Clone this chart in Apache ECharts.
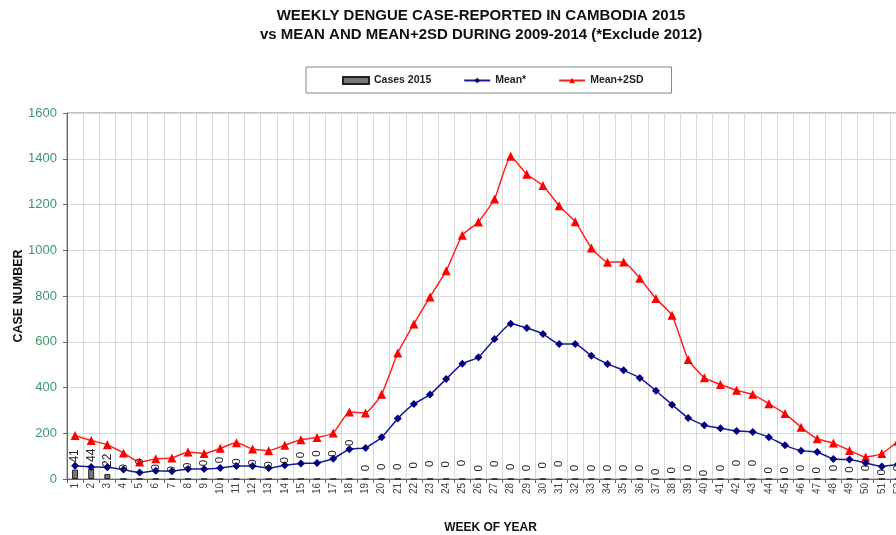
<!DOCTYPE html>
<html><head><meta charset="utf-8">
<script src="https://cdn.jsdelivr.net/npm/echarts@6/dist/echarts.min.js"></script>
<style>html,body{margin:0;padding:0;background:#fff;overflow:hidden;width:896px;height:535px}#c{width:906px;height:535px}</style>
</head><body><div id="c"></div>
<script>
var weeks = [];
for (var i = 1; i <= 52; i++) weeks.push(String(i));
var cases2015 = [41,44,22,0,0,0,0,0,0,0,0,0,0,0,0,0,0,0,0,0,0,0,0,0,0,0,0,0,0,0,0,0,0,0,0,0,0,0,0,0,0,0,0,0,0,0,0,0,0,0,0,0];
var mean = [58,53,51,41,28,36,34,44,44,48,57,57,48,60,68,70,89,130,136,182,264,328,369,437,504,532,612,679,660,634,590,590,539,503,475,442,386,325,267,235,222,210,206,182,147,124,118,87,85,70,55,64];
var mean2sd = [190,168,150,114,74,88,92,118,111,134,158,131,124,148,172,181,201,293,289,370,551,678,796,910,1066,1124,1224,1411,1332,1283,1195,1125,1010,948,949,878,789,716,522,443,413,388,370,329,286,226,176,157,125,96,111,165];
// heights at which Excel placed the "0" data labels of the zero-valued weeks
var zeroLabelAt = [null,null,null,51,76,51,42,58,70,83,76,72,63,82,105,111,111,158,48,53,53,60,66,64,70,47,66,53,48,60,66,48,48,48,48,48,32,38,48,26,48,70,70,38,38,48,38,48,41,48,29,48];
var yTicks = [0,200,400,600,800,1000,1200,1400,1600];

var zeroData = [];
zeroLabelAt.forEach(function(v, i){ if (v !== null && cases2015[i] === 0) zeroData.push([i, v, cases2015[i]]); });
var FONT = 'Liberation Sans, Arial';

var chart = echarts.init(document.getElementById('c'));
chart.setOption({
  animation: false,
  backgroundColor: '#fff',
  title: {
    text: 'WEEKLY DENGUE CASE-REPORTED IN CAMBODIA 2015\nvs MEAN AND MEAN+2SD DURING 2009-2014 (*Exclude 2012)',
    left: 481, top: 7, textAlign: 'center', padding: 0,
    textStyle: {fontFamily: FONT, fontWeight: 'bold', fontSize: 15, color: '#111', lineHeight: 18.5}
  },
  legend: {
    left: 306, top: 67,
    padding: [8, 28, 7, 36],
    itemGap: 32,
    borderColor: '#888', borderWidth: 1,
    itemWidth: 26, itemHeight: 7,
    textStyle: {fontFamily: FONT, fontWeight: 'bold', fontSize: 10.5, color: '#222'},
    data: [
      {name: 'Cases 2015', icon: 'rect'},
      {name: 'Mean*'},
      {name: 'Mean+2SD'}
    ]
  },
  grid: {left: 67, right: 0, top: 113, bottom: 56, containLabel: false, outerBoundsMode: 'none',
    show: true, borderColor: '#888', borderWidth: 1},
  xAxis: {
    type: 'category', data: weeks,
    name: 'WEEK OF YEAR', nameLocation: 'middle', nameGap: 43,
    nameTextStyle: {fontFamily: FONT, fontWeight: 'bold', fontSize: 12, color: '#111', padding: [0, 0, 0, 8]},
    axisLine: {lineStyle: {color: '#666'}},
    axisTick: {show: true, length: 4, lineStyle: {color: '#666'}},
    axisLabel: {rotate: 90, fontSize: 10, color: '#444', fontFamily: FONT, margin: 4, interval: 0},
    splitLine: {show: true, interval: 0, lineStyle: {color: '#d8d8d8'}}
  },
  yAxis: {
    type: 'value', min: 0, max: 1600, interval: 200,
    name: 'CASE NUMBER', nameLocation: 'middle', nameGap: 42, nameMoveOverlap: false,
    nameTextStyle: {fontFamily: FONT, fontWeight: 'bold', fontSize: 12.5, color: '#111'},
    axisLine: {show: true, lineStyle: {color: '#666'}},
    axisTick: {show: true, length: 4, lineStyle: {color: '#666'}},
    axisLabel: {fontSize: 13, color: '#3c9a6a', fontFamily: FONT, margin: 10,
      formatter: function(v){ return yTicks.indexOf(v) >= 0 ? String(v) : ''; }},
    splitLine: {show: true, lineStyle: {color: '#d8d8d8'}}
  },
  series: [
    {
      name: 'Cases 2015', type: 'bar', data: cases2015, barWidth: 6,
      itemStyle: {color: '#777', borderColor: '#222', borderWidth: 1},
      label: {show: true, position: 'top', rotate: 90, align: 'left', verticalAlign: 'middle', distance: 7,
        fontSize: 12, color: '#222', fontFamily: FONT,
        formatter: function(p){ return p.value > 0 ? String(p.value) : ''; }},
      z: 2
    },
    {
      name: 'Mean*', type: 'line', data: mean, smooth: 0.15,
      symbol: 'diamond', symbolSize: 8,
      lineStyle: {color: '#1a1a99', width: 1.5},
      itemStyle: {color: '#000080'},
      z: 4
    },
    {
      name: 'Mean+2SD', type: 'line', data: mean2sd, smooth: 0.15,
      symbol: 'triangle', symbolSize: 9,
      lineStyle: {color: '#ff2020', width: 1.5},
      itemStyle: {color: '#ff0000'},
      z: 3
    },
    {
      name: 'zeroLabels', type: 'custom', data: zeroData, silent: true,
      encode: {x: 0, y: 1},
      renderItem: function(params, api){
        var p = api.coord([api.value(0), api.value(1)]);
        return {
          type: 'text', x: p[0], y: p[1], rotation: Math.PI / 2, z2: 10,
          style: {text: String(api.value(2)), x: 0, y: 0, align: 'center', verticalAlign: 'middle',
            font: '11.5px "Liberation Sans", Arial', fill: '#222'}
        };
      },
      z: 5
    }
  ]
});
</script></body></html>
